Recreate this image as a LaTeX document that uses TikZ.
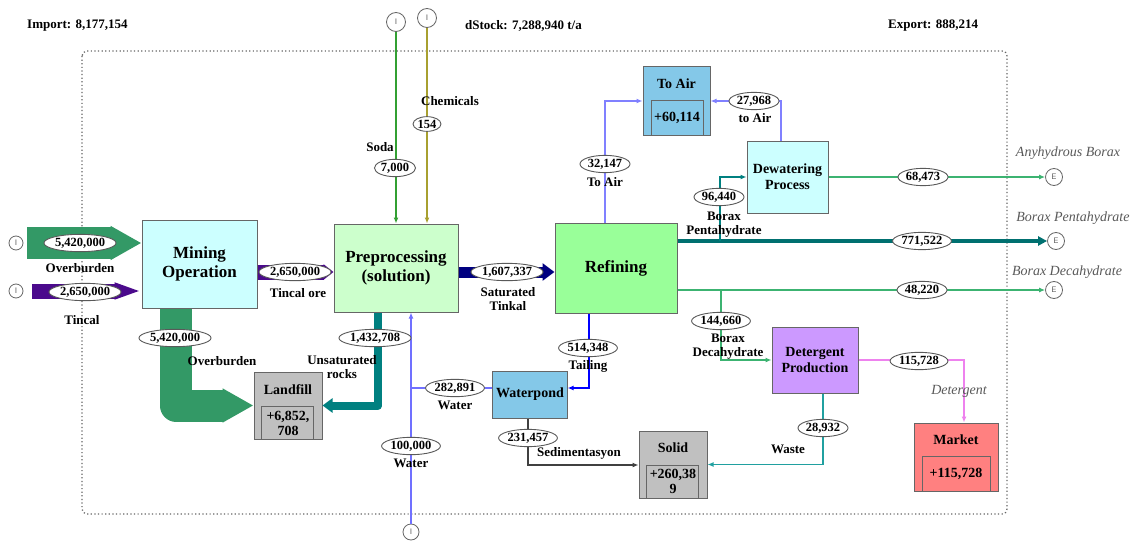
\documentclass[tikz,border=0pt]{standalone}
\usepackage{fontspec}
\setmainfont{Liberation Serif}
\usetikzlibrary{arrows.meta, shapes.geometric}

\definecolor{cyanL}{HTML}{CCFFFF}
\definecolor{prepG}{HTML}{CCFFCC}
\definecolor{refG}{HTML}{99FF99}
\definecolor{skyB}{HTML}{84C8E8}
\definecolor{detP}{HTML}{CC99FF}
\definecolor{mktR}{HTML}{FF8080}
\definecolor{grayS}{HTML}{C0C0C0}
\definecolor{oburC}{HTML}{339966}
\definecolor{tincC}{HTML}{4B0A8C}
\definecolor{satC}{HTML}{000080}
\definecolor{rockC}{HTML}{008080}
\definecolor{pentC}{HTML}{007070}
\definecolor{tailC}{HTML}{0000FF}
\definecolor{watC}{HTML}{7070FF}
\definecolor{airC}{HTML}{8080FF}
\definecolor{sodaC}{HTML}{33A033}
\definecolor{chemC}{HTML}{A8A030}
\definecolor{expC}{HTML}{3CB371}
\definecolor{dtgC}{HTML}{EE82EE}
\definecolor{wstC}{HTML}{20A0A0}
\definecolor{sedC}{HTML}{404040}

\begin{document}
\begin{tikzpicture}[x=1pt,y=-1pt,>={Latex[length=6pt,width=5pt]},
  box/.style={draw=black!60,line width=1pt,align=center,font=\fontsize{17}{19}\selectfont\bfseries},
  sbox/.style={box,font=\fontsize{14}{16}\selectfont\bfseries},
  stxt/.style={inner sep=0pt,align=center,font=\fontsize{14}{15}\selectfont\bfseries},
  val/.style={ellipse,draw=black!65,fill=white,line width=0.9pt,inner xsep=0.5pt,inner ysep=1pt,font=\fontsize{12.5}{14}\selectfont\bfseries},
  txt/.style={inner sep=0pt,align=center,font=\fontsize{13}{14}\selectfont\bfseries},
  expo/.style={inner sep=0pt,text=black!65,font=\fontsize{14}{16}\selectfont\itshape},
  io/.style={circle,draw=black!60,line width=0.8pt,fill=white,minimum size=16pt,inner sep=0pt,text=black!60,font=\sffamily\fontsize{8}{8}\selectfont},
  flow/.style={line width=1.3pt}]
\path[use as bounding box, fill=white] (0,0) rectangle (1133,543);

% system boundary and totals
\draw[black!60, line width=1.3pt, dash pattern=on 1.2pt off 2.4pt, rounded corners=5pt] (82,51) rectangle (1007,514);
\node[txt, anchor=west] (imp) at (27,26) {Import: 8,177,154};
\node[txt, anchor=west] (dst) at (465,26) {dStock: 7,288,940 t/a};
\node[txt, anchor=west] (exq) at (888,26) {Export: 888,214};

% processes
\node[box, fill=cyanL, minimum width=115pt, minimum height=88pt] (mine) at (199.5,264) {Mining\\Operation};
\node[box, fill=prepG, minimum width=124pt, minimum height=88pt] (prep) at (396,268) {Preprocessing\\(solution)};
\node[box, fill=refG, minimum width=122pt, minimum height=90pt] (ref) at (616,268) {Refining};
\node[sbox, fill=skyB, minimum width=67pt, minimum height=68pt] (toair) at (676.5,101) {};
\node[sbox, fill=cyanL, minimum width=81pt, minimum height=72pt] (dew) at (787.5,177) {Dewatering\\Process};
\node[sbox, fill=detP, minimum width=86pt, minimum height=66pt] (det) at (815,360) {Detergent\\Production};
\node[sbox, fill=mktR, minimum width=84pt, minimum height=68pt] (market) at (956,457) {};
\node[sbox, fill=grayS, minimum width=68pt, minimum height=67pt] (landfill) at (288,405.5) {};
\node[sbox, fill=skyB, minimum width=72pt, minimum height=47pt] (pond) at (530,394.5) {Waterpond};
\node[sbox, fill=grayS, minimum width=68pt, minimum height=67pt] (solid) at (673,464.5) {};

% stocks
\foreach \nm/\lft/\rgt/\hgt in {toair/9/7/35, market/9/8/35, landfill/8/9/33, solid/8/9/33}
  \draw[black!60, line width=1pt] ([xshift=\lft pt]\nm.south west) |- ([xshift=-\rgt pt, yshift=\hgt pt]\nm.south east) -- ([xshift=-\rgt pt]\nm.south east);
\node[stxt] (toairT) at (676.5,84) {To Air};
\node[stxt] (toairV) at (677,118) {+60,114};
\node[stxt] (marketT) at (956,440) {Market};
\node[stxt] (marketV) at (956,474) {+115,728};
\node[stxt] (landT) at (288,390) {Landfill};
\node[stxt] (landV) at (288,423) {+6,852,\\708};
\node[stxt] (solidT) at (673,448) {Solid};
\node[stxt] (solidV) at (673,481) {+260,38\\9};

% import / export
\node[io, minimum size=14pt] (iob) at (16,243) {I};
\node[io, minimum size=14pt] (iti) at (16,291) {I};
\node[io, minimum size=19pt] (iso) at (396,22) {I};
\node[io, minimum size=19pt] (ich) at (427,18) {I};
\node[io] (iwa) at (411,532) {I};
\node[io, minimum size=17pt] (eanh) at (1054,177) {E};
\node[io, minimum size=17pt] (epen) at (1056,241) {E};
\node[io, minimum size=17pt] (edec) at (1054,290) {E};
\coordinate (wj) at (411,388);
\coordinate (sj) at (528,465);
\coordinate (bp) at (720,241);
\coordinate (bd) at (721,290);

% wide flows
\draw[oburC, line width=32pt, -{Triangle[length=31pt,width=32pt]}] ([xshift=4pt]iob.east) -- (iob -| mine.west);
\draw[tincC, line width=15pt, -{Triangle[length=27pt,width=15pt]}] ([xshift=9pt]iti.east) -- (iti -| mine.west);
\draw[tincC, line width=15pt, -{Triangle[length=10pt,width=15pt]}] ([yshift=-8pt]mine.east) -- ([yshift=-8pt]mine.east -| prep.west);
\draw[oburC, line width=32pt, line join=round, -{Triangle[length=31pt,width=32pt]}] ([xshift=-23.5pt]mine.south) |- (landfill.west);
\draw[rockC, line width=8pt, line join=round, -{Triangle[length=10pt,width=14pt]}] ([xshift=-18pt]prep.south) |- (landfill.east);
\draw[satC, line width=11pt, -{Triangle[length=12pt,width=17pt]}] ([yshift=-4pt]prep.east) -- ([yshift=-4pt]ref.west);
\draw[pentC, line width=4pt, -{Triangle[length=9pt,width=9pt]}] (ref.east |- bp) -- (epen);

% thin flows
\draw[flow, sodaC, ->] (iso) -- (iso |- prep.north);
\draw[flow, chemC, ->] (ich) -- (ich |- prep.north);
\draw[flow, watC, ->] (iwa) -- (iwa |- prep.south);
\draw[flow, watC] (pond.west |- wj) -- (wj);
\draw[flow, tailC, line width=2.5pt, ->] ([xshift=-27pt]ref.south) |- (pond.east |- wj);
\draw[flow, sedC, ->] (pond.south -| sj) |- (solid.west |- sj);
\draw[flow, airC, ->] ([xshift=-11pt]ref.north) |- (toair.west);
\draw[flow, airC, ->] ([xshift=-6.5pt]dew.north) |- (toair.east);
\draw[flow, rockC, ->] (bp) |- (dew.west);
\draw[flow, expC, ->] (dew.east) -- (eanh);
\draw[flow, expC, ->] (ref.east |- bd) -- (edec);
\draw[flow, expC, ->] (bd) |- (det.west);
\draw[flow, dtgC, ->] (det.east) -| ([xshift=8pt]market.north);
\draw[flow, wstC, ->] ([xshift=8pt]det.south) |- (solid.east);

% values and names
\node[val] (v1) at (80,243) {5,420,000};
\node[txt] (t1) at (80,268) {Overburden};
\node[val] (v2) at (85,292) {2,650,000};
\node[txt] (t2) at (82,320) {Tincal};
\node[val] (v3) at (295,272) {2,650,000};
\node[txt] (t3) at (298,293) {Tincal ore};
\node[val] (v4) at (175,338) {5,420,000};
\node[txt] (t4) at (222,361) {Overburden};
\node[val] (v5) at (375,338) {1,432,708};
\node[txt] (t5) at (342,367) {Unsaturated\\rocks};
\node[val] (v6) at (507,272) {1,607,337};
\node[txt] (t6) at (508,299) {Saturated\\Tinkal};
\node[txt] (t7) at (380,147) {Soda};
\node[val] (v7) at (395,168) {7,000};
\node[txt] (t8) at (450,101) {Chemicals};
\node[val] (v8) at (427,124) {154};
\node[val] (v9) at (411,446) {100,000};
\node[txt] (t9) at (411,463) {Water};
\node[val] (v10) at (455,388) {282,891};
\node[txt] (t10) at (455,405) {Water};
\node[val] (v11) at (588,348) {514,348};
\node[txt] (t11) at (588,366) {Tailing};
\node[val] (v12) at (528,438) {231,457};
\node[txt] (t12) at (579,453) {Sedimentasyon};
\node[val] (v13) at (605,164) {32,147};
\node[txt] (t13) at (605,182) {To Air};
\node[val] (v14) at (754,101) {27,968};
\node[txt] (t14) at (755,118) {to Air};
\node[val] (v15) at (719,197) {96,440};
\node[txt] (t15) at (724,225) {Borax\\Pentahydrate};
\node[val] (v16) at (922,241) {771,522};
\node[val] (v17) at (923,177) {68,473};
\node[val] (v18) at (922,290) {48,220};
\node[val] (v19) at (721,321) {144,660};
\node[txt] (t19) at (728,347) {Borax\\Decahydrate};
\node[val] (v20) at (919,361) {115,728};
\node[val] (v21) at (823,428) {28,932};
\node[txt] (t21) at (788,449) {Waste};
\node[expo] (x1) at (1068,153) {Anyhydrous Borax};
\node[expo] (x2) at (1073,218) {Borax Pentahydrate};
\node[expo] (x3) at (1067,272) {Borax Decahydrate};
\node[expo] (x4) at (959,391) {Detergent};
\end{tikzpicture}
\end{document}
